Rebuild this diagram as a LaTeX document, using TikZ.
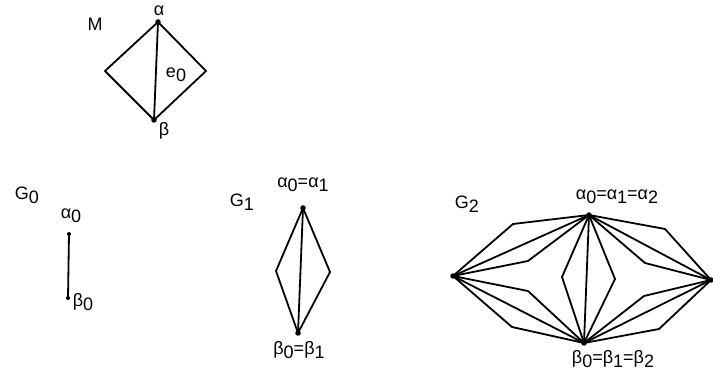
\documentclass[tikz,border=0pt]{standalone}
\usepackage{fontspec}
\setmainfont{Liberation Sans}
\newcommand{\sbs}[1]{\raisebox{-0.45ex}{#1}}
\tikzset{
  edge/.style={line width=1.8pt, line join=round},
  vdot/.style={circle, fill=black, inner sep=0pt, minimum size=5.5pt},
  lbl/.style={font=\fontsize{18}{18}\selectfont, inner sep=0pt}
}
\begin{document}
\begin{tikzpicture}[x=1pt,y=-1pt]
\useasboundingbox (0,0) rectangle (713,379);
% ---------- M ----------
\coordinate (Ma) at (158,22);
\coordinate (Mb) at (154,120);
\coordinate (Ml) at (105,71);
\coordinate (Mr) at (206,71);
\draw[edge] (Ma) -- (Ml) -- (Mb) -- (Mr) -- cycle;
\draw[edge] (Ma) -- (Mb);
\node[vdot] at (Ma) {};
\node[vdot] at (Mb) {};
\node[lbl] (lM) at (95,24) {M};
\node[lbl] (lMa) at (159,11) {α};
\node[lbl] (le0) at (176,75) {e\sbs{0}};
\node[lbl] (lMb) at (164,131) {β};
% ---------- G0 ----------
\coordinate (G0a) at (69,234);
\coordinate (G0b) at (68,298);
\draw[edge] (G0a) -- (G0b);
\node[vdot, minimum size=4pt] at (G0a) {};
\node[vdot, minimum size=4pt] at (G0b) {};
\node[lbl] (lG0) at (27,195) {G\sbs{0}};
\node[lbl] (lG0a) at (71,216) {α\sbs{0}};
\node[lbl] (lG0b) at (83,302) {β\sbs{0}};
% ---------- G1 ----------
\coordinate (G1a) at (303,208);
\coordinate (G1b) at (298,333);
\coordinate (G1l) at (276,271);
\coordinate (G1r) at (330,272);
\draw[edge] (G1a) -- (G1l) -- (G1b) -- (G1r) -- cycle;
\draw[edge] (G1a) -- (G1b);
\node[vdot] at (G1a) {};
\node[vdot] at (G1b) {};
\node[lbl] (lG1) at (242,202) {G\sbs{1}};
\node[lbl] (lG1a) at (303,185) {α\sbs{0}=α\sbs{1}};
\node[lbl] (lG1b) at (299,350) {β\sbs{0}=β\sbs{1}};
% ---------- G2 ----------
\coordinate (A) at (589,215);
\coordinate (B) at (584,343);
\coordinate (L) at (453,276);
\coordinate (R) at (711,280);
\coordinate (lu1) at (513,224);
\coordinate (lu2) at (528,261);
\coordinate (ll1) at (528,291);
\coordinate (ll2) at (512,327);
\coordinate (m1) at (562,277);
\coordinate (m2) at (615,279);
\coordinate (ru1) at (665,229);
\coordinate (ru2) at (645,263);
\coordinate (rl1) at (644,296);
\coordinate (rl2) at (659,329);
\draw[edge] (A) -- (lu1) -- (L) -- (lu2) -- cycle;
\draw[edge] (A) -- (L);
\draw[edge] (L) -- (ll1) -- (B) -- (ll2) -- cycle;
\draw[edge] (L) -- (B);
\draw[edge] (A) -- (m1) -- (B) -- (m2) -- cycle;
\draw[edge] (A) -- (B);
\draw[edge] (A) -- (ru1) -- (R) -- (ru2) -- cycle;
\draw[edge] (A) -- (R);
\draw[edge] (R) -- (rl1) -- (B) -- (rl2) -- cycle;
\draw[edge] (R) -- (B);
\node[vdot] at (A) {};
\node[vdot] at (B) {};
\node[vdot] at (L) {};
\node[vdot] at (R) {};
\node[lbl] (lG2) at (467,204) {G\sbs{2}};
\node[lbl] (lA) at (617,197) {α\sbs{0}=α\sbs{1}=α\sbs{2}};
\node[lbl] (lB) at (613,359) {β\sbs{0}=β\sbs{1}=β\sbs{2}};
\end{tikzpicture}
\end{document}
